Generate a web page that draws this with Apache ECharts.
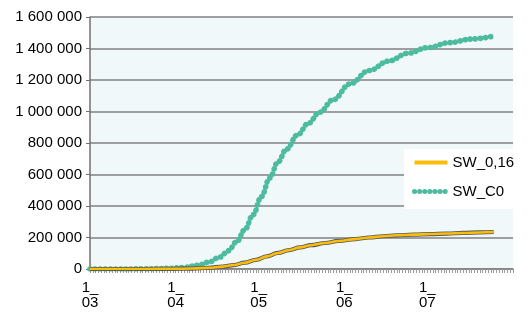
<!DOCTYPE html>
<html>
<head>
<meta charset="utf-8">
<script src="https://cdn.jsdelivr.net/npm/echarts@6/dist/echarts.min.js"></script>
<style>
html,body{margin:0;padding:0;background:#fff;}
#chart{width:531px;height:324px;}
</style>
</head>
<body>
<div id="chart"></div>
<script>
// Day index 0 = 1 March; x axis runs to day 153 (1 August)
var monthStartDays = [0, 31, 61, 92, 122];
var monthLabels = ['1_\n03', '1_\n04', '1_\n05', '1_\n06', '1_\n07'];
var yTicks = [0, 200000, 400000, 600000, 800000, 1000000, 1200000, 1400000, 1600000];

var seriesNames = ['SW_0,16', 'SW_C0'];

// [day, value]
var sw016 = [[0,0],[20,0],[30,1000],[37,3000],[43,8000],[48,15000],[52,25000],[56,40000],[60,58000],[64,80000],[68,102000],[72,120000],[76,137000],[80,151000],[85,165000],[90,178000],[96,190000],[101,200000],[106,208000],[111,214000],[117,218000],[123,222000],[129,225000],[135,229000],[141,232000],[146,235000]];

var swC0 = [[0,0],[10,0],[20,1000],[28,4000],[34,10000],[39,23000],[43,44000],[47,76000],[50,115000],[53,172000],[56,250000],[59,345000],[62,460000],[65,578000],[68,680000],[71,760000],[75,850000],[79,925000],[83,995000],[88,1075000],[94,1175000],[101,1260000],[108,1320000],[115,1370000],[122,1405000],[130,1437000],[138,1460000],[146,1479000]];

var FONT = 'Liberation Sans, Arial, sans-serif';
var TEAL = '#4dbb9f';
var YELLOW = '#fbbd0b';
var tealDash = [0.1, 5.0];

var chart = echarts.init(document.getElementById('chart'), null, {renderer: 'canvas'});

function fmtThousands(v) {
  return String(v).replace(/\B(?=(\d{3})+(?!\d))/g, ' ');
}

chart.setOption({
  animation: false,
  backgroundColor: '#ffffff',
  grid: {
    left: 90, right: 18, top: 17, bottom: 55,
    show: true, backgroundColor: '#f0f8fa', borderWidth: 0
  },
  legend: {
    data: [
      {name: seriesNames[0], itemStyle: {opacity: 0}, lineStyle: {color: YELLOW, width: 4}},
      {name: seriesNames[1], itemStyle: {opacity: 0}, lineStyle: {color: TEAL, width: 5, type: tealDash, cap: 'round'}}
    ],
    orient: 'vertical',
    left: 404, top: 149,
    backgroundColor: '#ffffff',
    padding: [6, 20, 10, 8],
    itemWidth: 33, itemHeight: 14, itemGap: 14,
    textStyle: {fontFamily: FONT, fontSize: 15, color: '#000'}
  },
  xAxis: {
    type: 'value',
    min: 0, max: 153, interval: 1,
    axisLine: {show: true, lineStyle: {color: '#808080', width: 1.5}},
    axisTick: {show: true, length: 4, lineStyle: {color: '#9a9a9a', width: 1}},
    splitLine: {show: false},
    axisLabel: {
      margin: 11,
      fontFamily: FONT, fontSize: 15, lineHeight: 15, color: '#000',
      formatter: function (v) {
        var i = monthStartDays.indexOf(Math.round(v));
        return i >= 0 ? monthLabels[i] : '';
      }
    }
  },
  yAxis: {
    type: 'value',
    min: yTicks[0], max: yTicks[yTicks.length - 1], interval: yTicks[1] - yTicks[0],
    axisLine: {show: true, lineStyle: {color: '#707070', width: 1.5}},
    axisTick: {show: true, length: 4, lineStyle: {color: '#707070', width: 1}},
    splitLine: {show: true, lineStyle: {color: '#808080', width: 1.5}},
    axisLabel: {
      margin: 8,
      fontFamily: FONT, fontSize: 15, color: '#000',
      formatter: fmtThousands
    }
  },
  series: [
    {
      name: 'SW_C0', type: 'line', data: swC0,
      smooth: 0.4, smoothMonotone: 'x', symbol: 'none', silent: true,
      color: TEAL,
      lineStyle: {color: TEAL, width: 5.6, type: tealDash, cap: 'round'},
      z: 2
    },
    {
      name: '_outline', type: 'line', data: sw016,
      smooth: 0.4, smoothMonotone: 'x', symbol: 'none', silent: true,
      lineStyle: {color: '#555555', width: 4.2},
      z: 3
    },
    {
      name: 'SW_0,16', type: 'line', data: sw016,
      smooth: 0.4, smoothMonotone: 'x', symbol: 'none', silent: true,
      color: YELLOW,
      lineStyle: {color: YELLOW, width: 2.6},
      z: 4
    }
  ]
});
</script>
</body>
</html>
